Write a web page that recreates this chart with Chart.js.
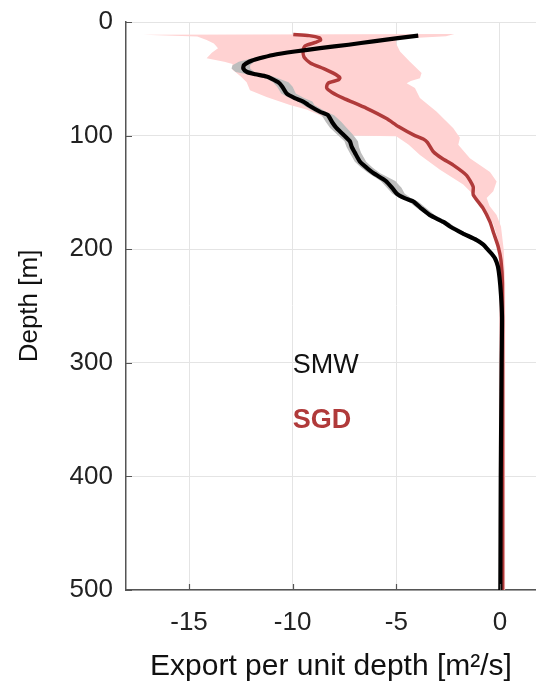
<!DOCTYPE html>
<html>
<head>
<meta charset="utf-8">
<script src="https://cdn.jsdelivr.net/npm/chart.js@4.4.1/dist/chart.umd.min.js"></script>
<style>
  html, body { margin: 0; padding: 0; background: #ffffff; }
  #wrap { width: 536px; height: 686px; position: relative; }
</style>
</head>
<body>
<div id="wrap"><canvas id="c"></canvas></div>
<script>
// ---- Data ----
// x: export per unit depth [m^2/s], y: depth [m]
const xTicks = [-15, -10, -5, 0];
const yTicks = [0, 100, 200, 300, 400, 500];

// SMW (black) mean profile
const smwDepth = [12,17,20,23,26,29,32,35,38,41,44,46,48,50,53,57,63,67,70,73,79,82,88,93,99,105,110,115,123,128,133,140,146,151,155,158,164,170,176,180,186,192,196,200,204,208,215,225,240,260,300,350,400,450,500];
const smwValue = [-3.94,-6.11,-7.3,-8.68,-9.9,-10.94,-11.6,-12.1,-12.35,-12.38,-12.2,-11.8,-11.26,-11.0,-10.7,-10.5,-10.29,-9.9,-9.49,-9.25,-8.68,-8.3,-8.1,-7.9,-7.56,-7.24,-7.15,-7.0,-6.75,-6.45,-6.11,-5.5,-5.2,-4.98,-4.6,-4.18,-3.8,-3.38,-2.73,-2.41,-1.8,-1.12,-0.8,-0.6,-0.4,-0.24,-0.1,-0.02,0.05,0.1,0.08,0.06,0.04,0.03,0.02];

// SMW uncertainty band (grey)
const smwBandDepth = [17,20,23,26,29,32,35,38,41,44,46,48,50,53,57,63,67,70,73,79,82,88,93,99,105,110,115,123,128,133,140,146,151,155,158,164,170,176,180,186,192,196,200,204,208,215];
const smwBandLow  = [-6.3,-7.5,-8.9,-10.15,-11.2,-11.95,-12.6,-12.9,-12.95,-12.75,-12.2,-11.55,-11.25,-10.95,-10.75,-10.55,-10.15,-9.75,-9.5,-8.95,-8.6,-8.4,-8.2,-7.85,-7.5,-7.4,-7.25,-7.0,-6.7,-6.35,-5.75,-5.45,-5.2,-4.85,-4.4,-4.0,-3.55,-2.9,-2.55,-1.95,-1.25,-0.9,-0.7,-0.5,-0.32,-0.15];
const smwBandHigh = [-5.9,-7.1,-8.45,-9.65,-10.7,-11.35,-11.85,-12.05,-12.05,-11.85,-11.45,-10.95,-10.65,-10.2,-10.0,-9.85,-9.45,-9.05,-8.95,-8.4,-8.0,-7.65,-7.4,-7.1,-6.85,-6.8,-6.7,-6.45,-6.15,-5.8,-5.05,-4.75,-4.6,-4.3,-3.95,-3.55,-3.15,-2.5,-2.2,-1.6,-0.95,-0.65,-0.48,-0.3,-0.15,-0.05];

// SGD (red) mean profile
const sgdDepth = [11,12,14,16,18,21,25,31,36,41,45,49,51,54,58,62,67,76,85,92,100,103,106,114,120,126,135,145,152,164,176,186,198,210,230,300,400,500];
const sgdValue = [-9.97,-9.2,-8.7,-8.65,-8.9,-9.4,-9.5,-9.45,-9.15,-8.5,-8.04,-7.72,-7.8,-8.3,-8.36,-8.1,-7.56,-6.43,-5.47,-4.9,-4.1,-3.7,-3.5,-3.22,-2.8,-2.25,-1.61,-1.29,-1.29,-0.81,-0.48,-0.3,-0.08,0.05,0.12,0.13,0.13,0.13];

// SGD uncertainty band (pink): left edge and right edge
const sgdLowDepth = [11.3,12.8,15.8,19,23,27,32,35,37,42,48,53,60,66,73,77,82,88,95,100,100.5,108,117,130,143,155,167,178,190,205,240,300,400,500];
const sgdLow      = [-17.2,-14.6,-14.15,-13.8,-13.6,-13.9,-14.15,-13.3,-12.9,-12.9,-12.5,-12.22,-12.06,-11.26,-10.13,-9.33,-8.68,-8.2,-7.8,-7.5,-5.0,-4.4,-3.86,-2.89,-1.77,-1.12,-0.64,-0.32,-0.12,-0.02,-0.03,-0.05,-0.05,-0.05];
const sgdHighDepth = [10.6,12.5,14.5,16,20,26,35,45,49.5,52,54,58,67,79,93.5,102,108,120,132,140.5,149,155,162,170,180,200,230,300,400,500];
const sgdHigh      = [-2.2,-2.6,-4.6,-5.0,-4.98,-4.82,-4.34,-3.78,-3.86,-4.3,-4.5,-4.1,-3.86,-3.05,-2.25,-1.93,-2.01,-1.45,-0.48,-0.16,-0.32,-0.64,-0.5,-0.16,0.05,0.18,0.25,0.25,0.25,0.25];

// Text labels placed in data coordinates
const labelSMW = { text: 'SMW', x: -10, y: 302 };
const labelSGD = { text: 'SGD', x: -10, y: 351 };

// ---- Build datasets ----
const pts = (xs, ys) => xs.map((v, i) => ({ x: v, y: ys[i] }));
const polygon = (lowX, lowY, highX, highY) =>
  pts(lowX, lowY).concat(pts(highX, highY).reverse());

const FONT = "'Liberation Sans', Arial, Helvetica, sans-serif";
const RED = '#b03a3a';

const inwardTicks = {
  id: 'inwardTicks',
  afterDraw(chart) {
    const { ctx, chartArea: a, scales: { x, y } } = chart;
    ctx.save();
    ctx.strokeStyle = '#555555';
    ctx.lineWidth = 1.2;
    ctx.beginPath();
    xTicks.forEach(v => {
      const px = Math.round(x.getPixelForValue(v)) + 0.5;
      ctx.moveTo(px, a.bottom);
      ctx.lineTo(px, a.bottom - 6);
    });
    yTicks.forEach(v => {
      const py = Math.round(y.getPixelForValue(v)) + 0.5;
      ctx.moveTo(a.left, py);
      ctx.lineTo(a.left + 6, py);
    });
    ctx.stroke();
    ctx.restore();
  }
};

const textLabels = {
  id: 'textLabels',
  afterDatasetsDraw(chart) {
    const { ctx, scales: { x, y } } = chart;
    ctx.save();
    ctx.textAlign = 'left';
    ctx.textBaseline = 'middle';
    ctx.fillStyle = '#111111';
    ctx.font = '27px ' + FONT;
    ctx.fillText(labelSMW.text, x.getPixelForValue(labelSMW.x), y.getPixelForValue(labelSMW.y));
    ctx.fillStyle = RED;
    ctx.font = 'bold 27px ' + FONT;
    ctx.fillText(labelSGD.text, x.getPixelForValue(labelSGD.x), y.getPixelForValue(labelSGD.y));
    ctx.restore();
  }
};

new Chart(document.getElementById('c'), {
  type: 'scatter',
  data: {
    datasets: [
      {
        label: 'SMW',
        data: pts(smwValue, smwDepth),
        showLine: true,
        borderColor: '#000000',
        borderWidth: 4.2,
        pointRadius: 0,
        fill: false,
        tension: 0.2
      },
      {
        label: 'SGD',
        data: pts(sgdValue, sgdDepth),
        showLine: true,
        borderColor: RED,
        borderWidth: 3.5,
        pointRadius: 0,
        fill: false,
        tension: 0.2
      },
      {
        label: 'SMW range',
        data: polygon(smwBandLow, smwBandDepth, smwBandHigh, smwBandDepth),
        showLine: true,
        borderWidth: 0,
        borderColor: 'rgba(0,0,0,0)',
        backgroundColor: '#bdbdbd',
        pointRadius: 0,
        fill: 'shape',
        tension: 0
      },
      {
        label: 'SGD range',
        data: polygon(sgdLow, sgdLowDepth, sgdHigh, sgdHighDepth),
        showLine: true,
        borderWidth: 0,
        borderColor: 'rgba(0,0,0,0)',
        backgroundColor: '#ffd2d2',
        pointRadius: 0,
        fill: 'shape',
        tension: 0
      }
    ]
  },
  options: {
    responsive: true,
    maintainAspectRatio: false,
    animation: false,
    layout: { padding: { top: 22, right: 0, left: 0, bottom: 0 } },
    plugins: {
      legend: { display: false },
      tooltip: { enabled: false }
    },
    scales: {
      x: {
        type: 'linear',
        position: 'bottom',
        min: -18.04,
        max: 1.74,
        afterBuildTicks: s => { s.ticks = xTicks.map(v => ({ value: v })); },
        afterFit: s => { s.height = 96; },
        ticks: {
          font: { family: FONT, size: 26 },
          color: '#222222',
          padding: 17,
          maxRotation: 0,
          callback: v => String(v)
        },
        grid: { color: '#e4e4e4', lineWidth: 1, drawTicks: false },
        border: { display: true, color: '#555555', width: 1.5 },
        title: {
          display: true,
          text: 'Export per unit depth [m²/s]',
          font: { family: FONT, size: 30, lineHeight: 1.2 },
          color: '#111111',
          padding: { top: 0, bottom: 1 }
        }
      },
      y: {
        type: 'linear',
        reverse: true,
        min: 0,
        max: 500,
        afterBuildTicks: s => { s.ticks = yTicks.map(v => ({ value: v })); },
        afterFit: s => { s.width = 126; },
        ticks: {
          font: { family: FONT, size: 26, lineHeight: 0.6 },
          color: '#222222',
          padding: 13,
          callback: v => String(v)
        },
        grid: { color: '#e4e4e4', lineWidth: 1, drawTicks: false },
        border: { display: true, color: '#555555', width: 1.5 },
        title: {
          display: true,
          text: 'Depth [m]',
          font: { family: FONT, size: 26, lineHeight: 1.2 },
          color: '#111111',
          padding: { top: 14, bottom: 0 }
        }
      }
    }
  },
  plugins: [inwardTicks, textLabels]
});
</script>
</body>
</html>
